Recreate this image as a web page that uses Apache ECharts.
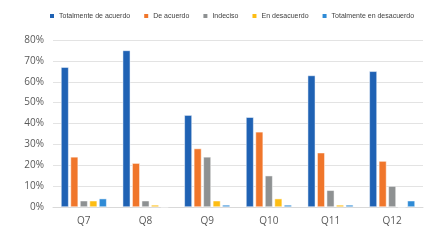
<!DOCTYPE html>
<html>
<head>
<meta charset="utf-8">
<script src="https://cdn.jsdelivr.net/npm/echarts@6/dist/echarts.min.js"></script>
<style>
  html, body { margin: 0; padding: 0; background: #fff; }
  #chart { width: 444px; height: 244px; }
</style>
</head>
<body>
<div id="chart"></div>
<script>
// categorias y valores (%)
const categories = ["Q7", "Q8", "Q9", "Q10", "Q11", "Q12"];
const seriesNames = ["Totalmente de acuerdo", "De acuerdo", "Indeciso", "En desacuerdo", "Totalmente en desacuerdo"];
const totalAcuerdo = [67, 75, 44, 43, 63, 65];
const deAcuerdo = [24, 21, 28, 36, 26, 22];
const indeciso = [3, 3, 24, 15, 8, 10];
const enDesacuerdo = [3, 1, 3, 4, 1, 0];
const totalDesacuerdo = [4, 0, 1, 1, 1, 3];
const colors = ["#1F62B4", "#F0762B", "#8E9192", "#FDBD14", "#2F8BD6"];

const chart = echarts.init(document.getElementById("chart"));
const data = [totalAcuerdo, deAcuerdo, indeciso, enDesacuerdo, totalDesacuerdo];

const option = {
  animation: false,
  textStyle: { fontFamily: "Open Sans" },
  legend: {
    top: 12,
    left: 48,
    width: 396,
    padding: 0,
    itemWidth: 6,
    itemHeight: 6,
    itemGap: 12,
    icon: "rect",
    data: seriesNames,
    textStyle: { color: "#404040", fontSize: 7, fontFamily: "Liberation Sans", padding: [0, 0, 0, -1] },
  },
  grid: { top: 40, left: 53, right: 21, bottom: 37 },
  xAxis: {
    type: "category",
    data: categories,
    axisLine: { lineStyle: { color: "#D9D9D9" } },
    axisTick: { show: false },
    axisLabel: { color: "#595959", fontSize: 10, margin: 9 },
  },
  yAxis: {
    type: "value",
    min: 0,
    max: 80,
    interval: 10,
    axisLabel: { formatter: "{value}%", color: "#595959", fontSize: 10, margin: 9 },
    splitLine: { lineStyle: { color: "#E3E3E3" } },
  },
  series: seriesNames.map((name, i) => ({
    name: name,
    type: "bar",
    data: data[i],
    barGap: "25%",
    barCategoryGap: "26%",
    itemStyle: { color: colors[i], borderColor: "#fff", borderWidth: 0.5 },
  })),
};
chart.setOption(option);
</script>
</body>
</html>
